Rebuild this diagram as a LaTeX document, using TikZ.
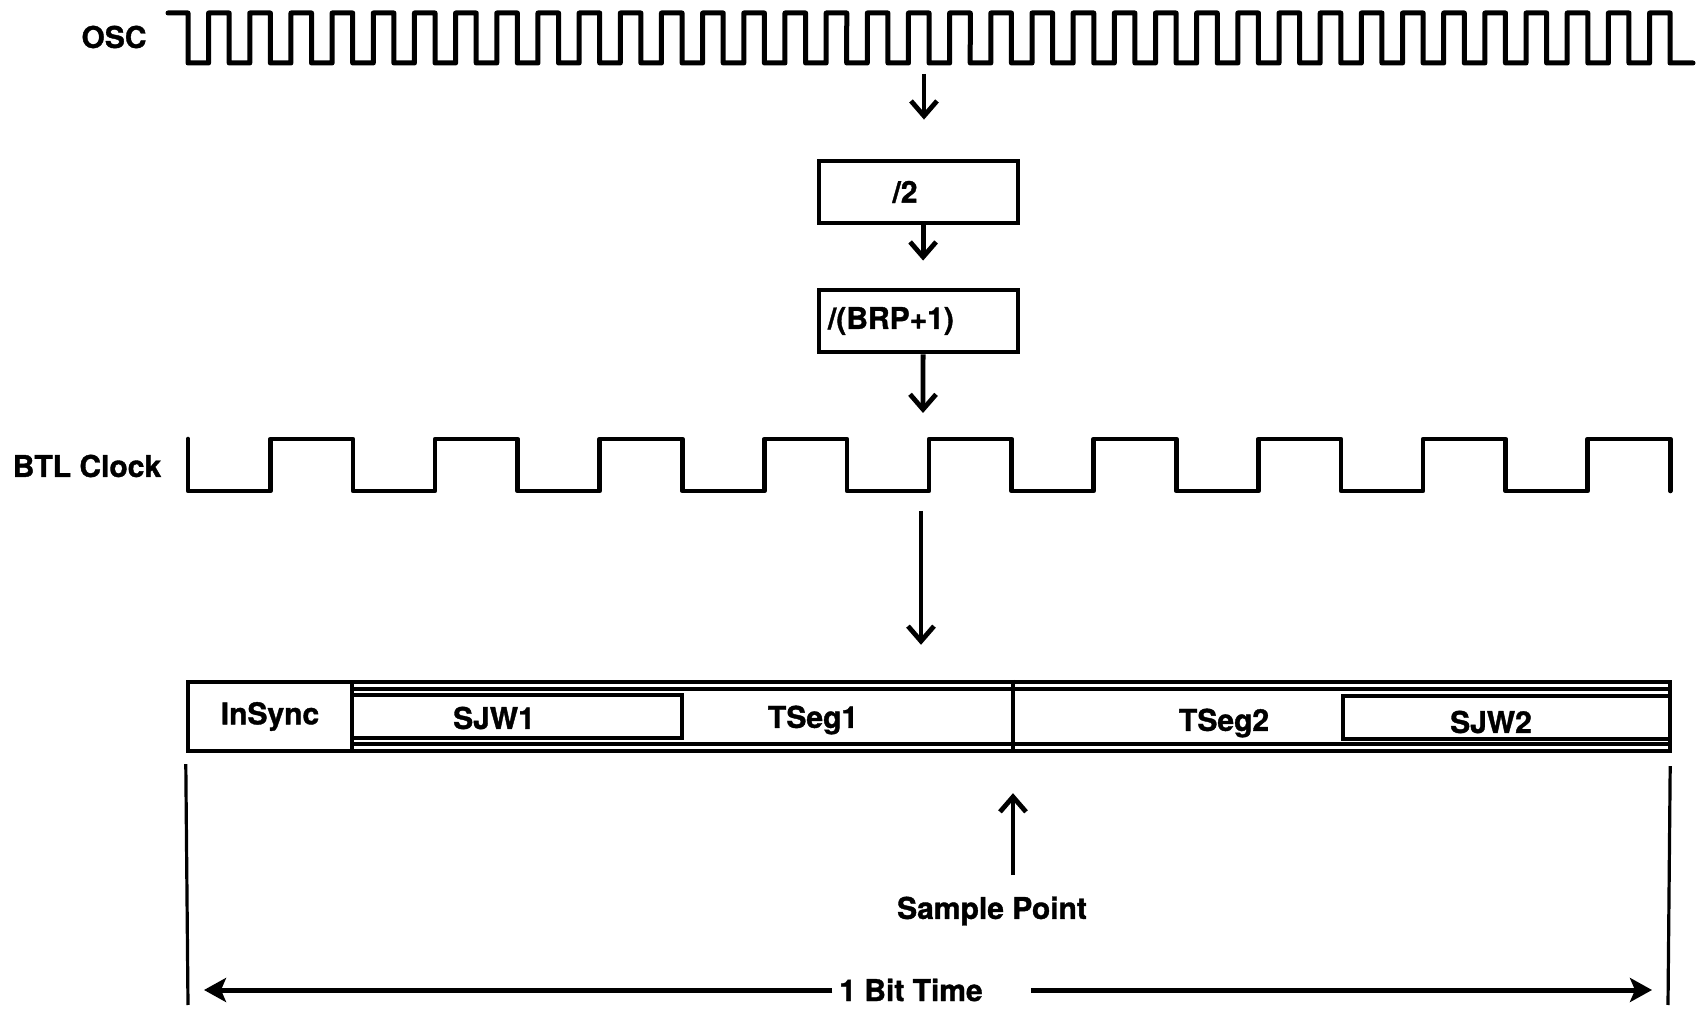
\documentclass[tikz,border=0pt]{standalone}
\usepackage{fontspec}
\setmainfont{TeX Gyre Heros}[BoldFeatures={FakeBold=1.2}]
\usetikzlibrary{arrows.meta, calc, positioning}

\begin{document}
\begin{tikzpicture}[x=0.5pt, y=-0.5pt,
  font=\fontsize{15}{18}\selectfont\bfseries,
  wave/.style={line width=2.5pt, line join=round, line cap=round},
  divbox/.style={draw, line width=2.4pt, minimum width=99.5pt, minimum height=31pt, inner sep=0pt},
  seg/.style={draw, line width=2pt, inner sep=0pt},
  flow/.style={line width=2.4pt, -{Straight Barb[length=7.5pt, width=13pt, line width=2.4pt]}},
  span/.style={line width=2.5pt, -{Stealth[length=11pt, width=12pt, inset=2.5pt]}},
  tick/.style={line width=1.6pt}]
\useasboundingbox (0,0) rectangle (1704,1015);

% oscillator
\node (osc) at (114,37) {OSC};
\draw[wave] (168,13) -- (188,13)
  \foreach \i in {0,...,35} {
    -- ({188+41.17*\i},63) -- ({208.6+41.17*\i},63)
    -- ({208.6+41.17*\i},13) -- ({229.2+41.17*\i},13)}
  -- (1670,63) -- (1693,63);
\coordinate (oscout) at (924,74);

% prescaler
\node[divbox] (div1) at (918.5,192) {};
\node (div1txt) at (905,192) {/2};
\node[divbox, text width=90.5pt, inner xsep=4.5pt, align=left] (div2) at (918.5,321) {/(BRP+1)};
\coordinate (btlin) at (923,413);
\draw[flow, shorten >=19.5pt] (oscout) -- (oscout |- div1.north);
\draw[flow, shorten >=13.5pt] ([xshift=2.3pt]div1.south) -- ([xshift=2.3pt]div2.north);
\draw[flow] ([xshift=2.3pt]div2.south) -- (btlin);

% BTL clock
\node (btl) at (87,466) {BTL Clock};
\draw[wave, line width=2.3pt] (188,439) -- (188,491)
  \foreach \i in {0,...,8} {
    -- ({270.3+164.67*\i},491) -- ({270.3+164.67*\i},439)
    -- ({353+164.67*\i},439) -- ({353+164.67*\i},491)};
\coordinate (btlout) at (921,511);

% bit time segments
\node[seg, line width=2.2pt, minimum width=741pt, minimum height=34.5pt] (bit) at (929,716.5) {};
\node[seg, minimum width=82pt, minimum height=34.5pt] (insync) at (270,716.5) {InSync};
\node[seg, line width=1.6pt, minimum width=659pt, minimum height=27.5pt] (tseg) at (1011,716.5) {};
\node[seg, minimum width=165pt, minimum height=21.5pt] (sjw1) at (517,716.5) {};
\node[seg, minimum width=163.5pt, minimum height=21.5pt] (sjw2) at (1506.5,718) {};
\node (sjw1txt) at (494,718) {SJW1};
\node (sjw2txt) at (1491,722) {SJW2};
\node (tseg1) at (813,720) {TSeg1};
\node (tseg2) at (1224,723) {TSeg2};
\draw[flow, shorten >=17.5pt] (btlout) -- (btlout |- bit.north);

% sample point
\coordinate (spt) at (1013,875);
\draw[line width=2.2pt] (bit.north -| spt) -- (bit.south -| spt);
\draw[flow] (spt) -- ([yshift=-20pt]bit.south -| spt);
\node (sample) at (992,911) {Sample Point};

% one bit time
\coordinate (bl) at (188,1005);
\coordinate (br) at (1668,1005);
\draw[tick] ([yshift=-5.5pt]bit.south west) -- (bl);
\draw[tick] ([yshift=-6.5pt, xshift=-1pt]bit.south east) -- (br);
\node (bittime) at (911,990) {1 Bit Time};
\draw[span] (bittime.west) -- ([xshift=8pt]bl |- bittime);
\draw[span] ([xshift=20.5pt]bittime.east) -- ([xshift=-8pt]br |- bittime);
\end{tikzpicture}
\end{document}
